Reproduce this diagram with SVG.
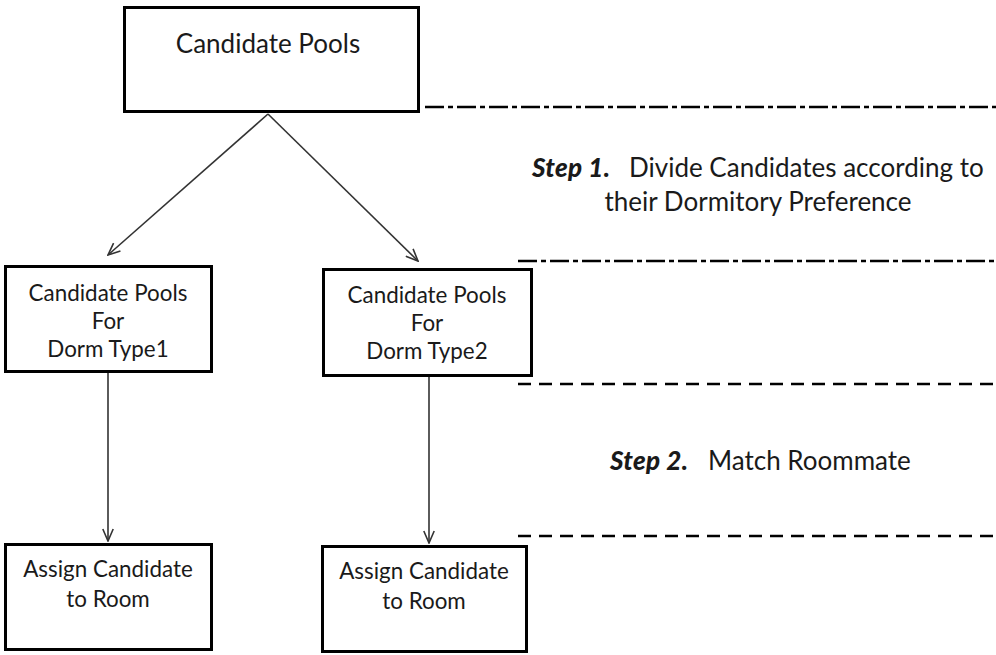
<svg xmlns="http://www.w3.org/2000/svg" width="996" height="655" viewBox="0 0 996 655">
  <defs>
    <marker id="open-arrow" viewBox="0 0 14 12" refX="13" refY="6" markerWidth="14" markerHeight="12" markerUnits="userSpaceOnUse" orient="auto">
      <path d="M1,0.8 L13,6 L1,11.2" fill="none" stroke="#333" stroke-width="1.6"/>
    </marker>
    <style>
      .box { fill: #fff; stroke: #000; stroke-width: 3; }
      .label { font-family: Lato, "Liberation Sans", sans-serif; fill: #1a1a1a; text-anchor: middle; }
      .node-text { font-size: 22.4px; }
      .title-text { font-size: 26px; }
      .step { font-family: Lato, "Liberation Sans", sans-serif; fill: #1a1a1a; font-size: 26px; }
      .step-bold { font-weight: 900; font-style: italic; }
      .edge { stroke: #333; stroke-width: 1.6; fill: none; marker-end: url(#open-arrow); }
      .divider-dashdot { stroke: #000; stroke-width: 2.4; fill: none; stroke-dasharray: 19 4 5 4; }
      .divider-dash { stroke: #000; stroke-width: 2.6; fill: none; stroke-dasharray: 13 8; }
    </style>
  </defs>

  <!-- step separators -->
  <g id="dividers">
    <line class="divider-dashdot" x1="425" y1="107" x2="996" y2="107"/>
    <line class="divider-dashdot" x1="518" y1="261" x2="996" y2="261"/>
    <line class="divider-dash" x1="518" y1="384" x2="996" y2="384"/>
    <line class="divider-dash" x1="518" y1="536" x2="996" y2="536"/>
  </g>

  <!-- step descriptions -->
  <g id="step1">
    <text class="step" x="532" y="177"><tspan class="step-bold" textLength="78">Step 1.</tspan><tspan x="629">Divide Candidates according to</tspan></text>
    <text class="step" x="758" y="211" text-anchor="middle">their Dormitory Preference</text>
  </g>
  <g id="step2">
    <text class="step" x="610" y="470"><tspan class="step-bold" textLength="78">Step 2.</tspan><tspan x="708">Match Roommate</tspan></text>
  </g>

  <!-- connectors -->
  <g id="connectors">
    <line class="edge" x1="268" y1="114" x2="108" y2="255"/>
    <line class="edge" x1="268" y1="114" x2="418" y2="261"/>
    <line class="edge" x1="108" y1="373" x2="108" y2="541"/>
    <line class="edge" x1="429" y1="377" x2="429" y2="543"/>
  </g>

  <!-- nodes -->
  <g id="candidate-pools">
    <rect class="box" x="124.5" y="7.5" width="294" height="104"/>
    <text class="label title-text" x="268" y="53">Candidate Pools</text>
  </g>

  <g id="pools-dorm-type1">
    <rect class="box" x="5.5" y="266.5" width="206" height="105"/>
    <text class="label node-text" x="108" y="301">Candidate Pools</text>
    <text class="label node-text" x="108" y="329">For</text>
    <text class="label node-text" x="108" y="357">Dorm Type1</text>
  </g>

  <g id="pools-dorm-type2">
    <rect class="box" x="323.5" y="269.5" width="208" height="106"/>
    <text class="label node-text" x="427" y="303">Candidate Pools</text>
    <text class="label node-text" x="427" y="331">For</text>
    <text class="label node-text" x="427" y="359">Dorm Type2</text>
  </g>

  <g id="assign-room-1">
    <rect class="box" x="5.5" y="544.5" width="206" height="105"/>
    <text class="label node-text" x="108" y="577">Assign Candidate</text>
    <text class="label node-text" x="108" y="607">to Room</text>
  </g>

  <g id="assign-room-2">
    <rect class="box" x="322.5" y="546.5" width="204" height="105"/>
    <text class="label node-text" x="424" y="579">Assign Candidate</text>
    <text class="label node-text" x="424" y="609">to Room</text>
  </g>
</svg>
